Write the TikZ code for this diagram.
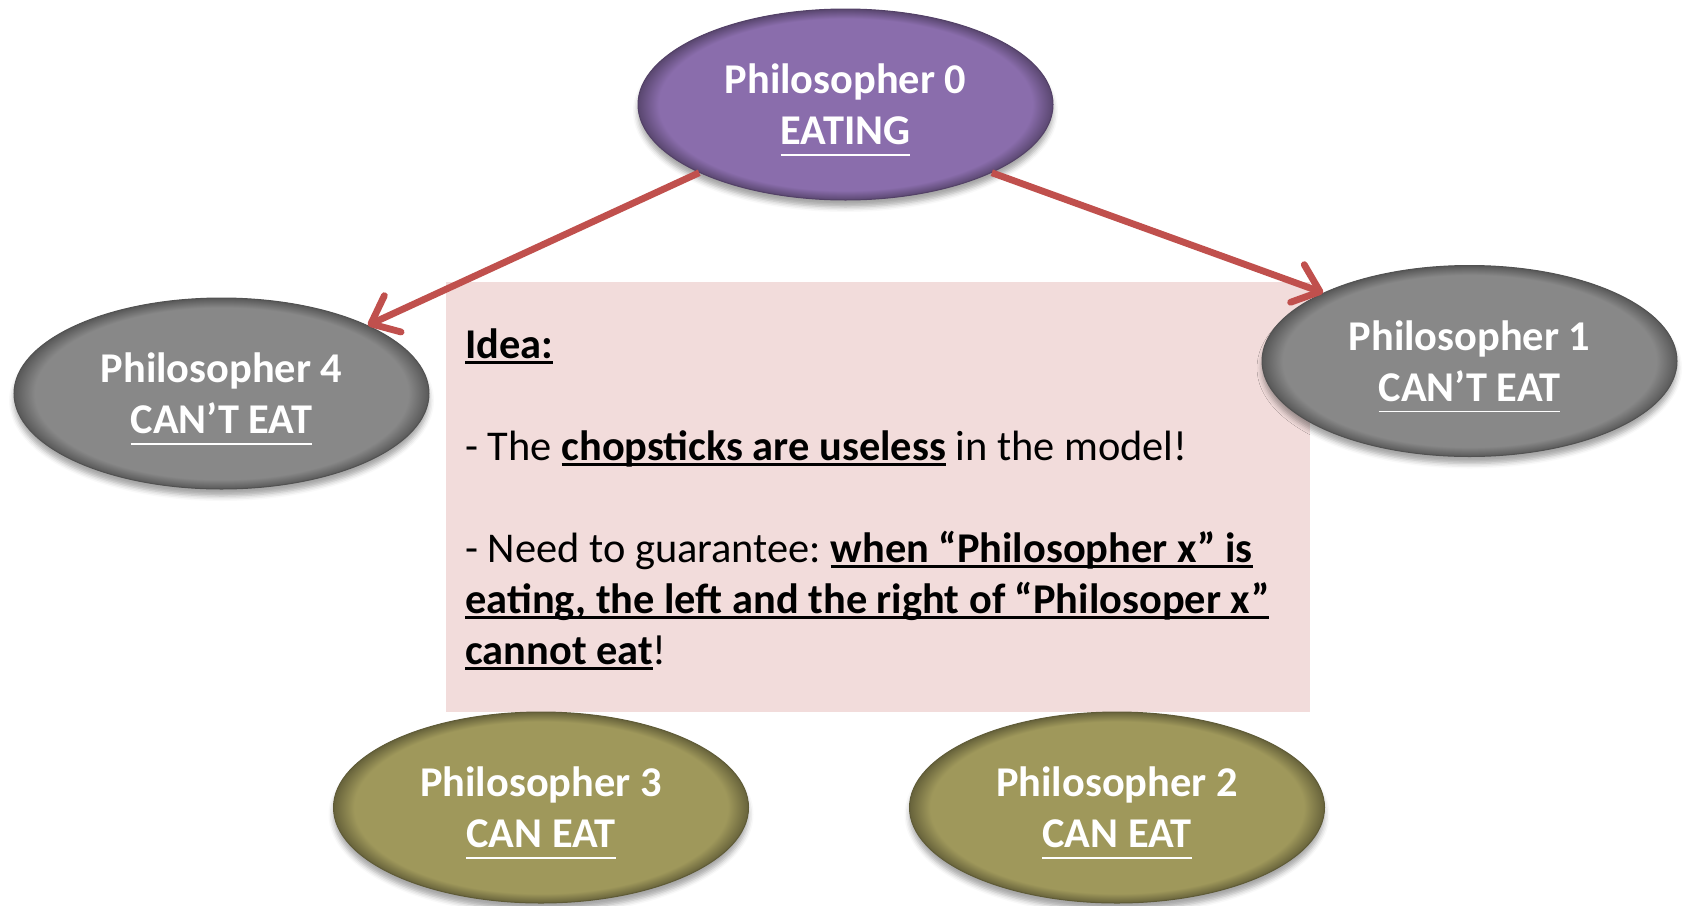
\documentclass[tikz,border=0pt]{standalone}
\usepackage{fontspec}
\setmainfont{Carlito}
\usetikzlibrary{arrows.meta,shapes.geometric,shadows.blur}

\definecolor{eatcol}{HTML}{8A6DAC}
\definecolor{waitcol}{HTML}{888888}
\definecolor{cancol}{HTML}{9F985B}
\definecolor{notecol}{HTML}{F2DCDB}
\definecolor{arrcol}{HTML}{C0504D}

% darker rim round the ellipses
\pgfdeclareradialshading{rimeat}{\pgfpoint{0bp}{0bp}}{color(0bp)=(eatcol); color(22.5bp)=(eatcol); color(25bp)=(eatcol!65!black); color(50bp)=(eatcol!65!black)}
\pgfdeclareradialshading{rimwait}{\pgfpoint{0bp}{0bp}}{color(0bp)=(waitcol); color(22.5bp)=(waitcol); color(25bp)=(waitcol!65!black); color(50bp)=(waitcol!65!black)}
\pgfdeclareradialshading{rimcan}{\pgfpoint{0bp}{0bp}}{color(0bp)=(cancol); color(22.5bp)=(cancol); color(25bp)=(cancol!65!black); color(50bp)=(cancol!65!black)}

% underline at a fixed depth (runs through descenders, adds no depth)
\newcommand\undl[3]{\setbox0\hbox{#3}\rlap{\smash{\rule[-#1]{\wd0}{#2}}}\box0\relax}
\newcommand\stat[1]{\undl{5.5pt}{0.7pt}{#1}}
\newcommand\ulb[1]{\undl{2.7pt}{1.3pt}{\textbf{#1}}}

\begin{document}
\frenchspacing
\begin{tikzpicture}[
  x=0.5pt, y=-0.5pt,
  phil/.style={ellipse, shade, minimum width=207.5pt, minimum height=95.5pt,
               inner sep=0pt, align=center, text=white, line width=0.5pt,
               font=\fontsize{21.2}{25.5}\selectfont\bfseries,
               blur shadow={shadow xshift=0pt, shadow yshift=-3.5pt,
                            shadow blur radius=2.5pt, shadow opacity=35}},
  pphil/.style={phil, shading=rimeat, draw=eatcol!60!black},
  gphil/.style={phil, shading=rimwait, draw=waitcol!60!black},
  ophil/.style={phil, shading=rimcan, draw=cancol!60!black},
  notebox/.style={fill=notecol, inner sep=0pt, minimum width=432pt,
                  minimum height=215pt},
  arr/.style={draw=arrcol, line width=3.4pt,
              -{Straight Barb[length=12pt, width=20pt, round]}}
]
\useasboundingbox (0,0) rectangle (1685,905);

\node[notebox] (note) at (878,497) {};
\node[anchor=north west, inner sep=0pt, align=left,
      font=\fontsize{21.2}{25.5}\selectfont] (idea) at (465,318)
  {\rule{0pt}{20pt}\ulb{Idea:}\\[25.5pt]
   - The \ulb{chopsticks are useless} in the model!\\[25.5pt]
   - Need to guarantee: \ulb{when “Philosopher x” is}\\
   \ulb{eating, the left and the right of “Philosoper x”}\\
   \ulb{cannot eat}!};

\node[pphil] (p0) at (845.5,104.5) {Philosopher 0\\\stat{EATING}};
\node[gphil] (p1) at (1469.5,361) {Philosopher 1\\\stat{CAN’T EAT}};
\node[ophil] (p2) at (1117,807.5) {Philosopher 2\\\stat{CAN EAT}};
\node[ophil] (p3) at (541,807.5) {Philosopher 3\\\stat{CAN EAT}};
\node[gphil] (p4) at (221.5,393.5) {Philosopher 4\\\stat{CAN’T EAT}};

\draw[arr] (p0.205) -- (p4.25);
\draw[arr] (p0.-25) -- (p1.155);
\end{tikzpicture}
\end{document}
